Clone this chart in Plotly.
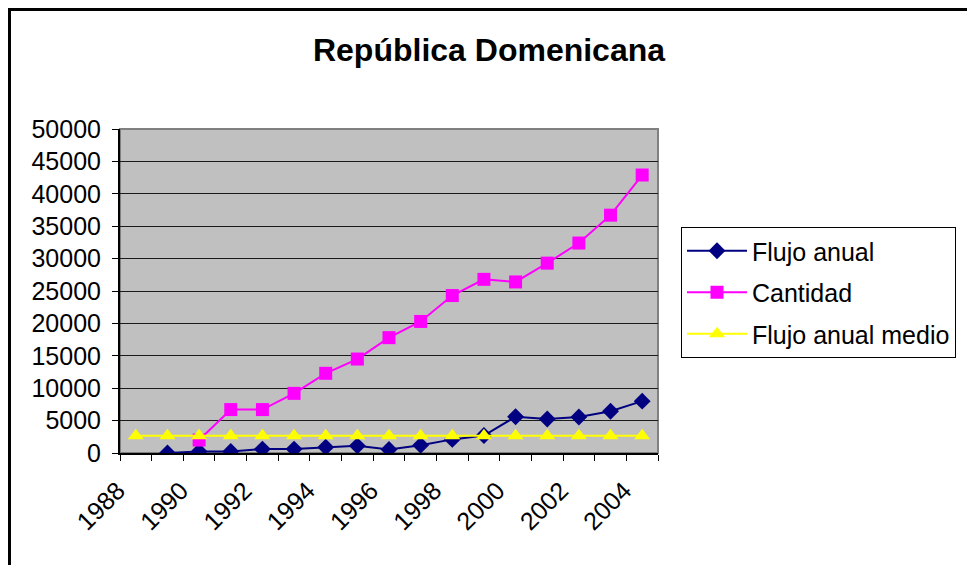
import plotly.graph_objects as go

# Datos
anios = list(range(1988, 2005))
flujo_anual = [None, 0, 250, 250, 600, 600, 900, 1100, 550, 1200, 2100, 2700,
               5600, 5250, 5550, 6450, 8000]
cantidad = [None, None, 2000, 6700, 6700, 9200, 12300, 14500, 17800, 20300,
            24300, 26800, 26400, 29300, 32400, 36700, 42900]
flujo_medio = [2650] * len(anios)
etiquetas_x = [str(a) for a in range(1988, 2005, 2)]

FUENTE = "Liberation Sans, Arial, sans-serif"

# La página deja 8 px de margen (body), así que todo va corrido 8 px
OFF = 8
W, H = 975 - OFF, 565 - OFF
# área de trazado en la página: x 120-658, y 129-453
L, T = 120 - OFF, 129 - OFF
R, B = W - (658 - OFF), H - (453 - OFF)
pw, ph = W - L - R, H - T - B


def px_x(x):
    return (x - OFF - L) / pw


def px_y(y):
    return (H - B - (y - OFF)) / ph


fig = go.Figure()
fig.add_trace(go.Scatter(
    x=anios, y=flujo_anual, name="Flujo anual", mode="lines+markers",
    line=dict(color="#000080", width=2),
    marker=dict(symbol="diamond", size=13, color="#000080"),
    legendgroup="a",
))
fig.add_trace(go.Scatter(
    x=anios, y=cantidad, name="Cantidad", mode="lines+markers",
    line=dict(color="#FF00FF", width=2),
    marker=dict(symbol="square", size=13, color="#FF00FF"),
    legendgroup="b",
))
fig.add_trace(go.Scatter(
    x=anios, y=flujo_medio, name="Flujo anual medio", mode="lines+markers",
    line=dict(color="#FFFF00", width=2),
    marker=dict(symbol="triangle-up", size=14, color="#FFFF00"),
    legendgroup="c",
))

fig.update_layout(
    width=W, height=H,
    margin=dict(l=L, r=R, t=T, b=B),
    paper_bgcolor="white",
    plot_bgcolor="#C0C0C0",
    font=dict(family=FUENTE, size=25, color="black"),
    title=dict(text="<b>República Domenicana</b>", x=(489 - OFF) / W,
               y=1 - (50 - OFF) / H, xanchor="center", yanchor="middle",
               font=dict(family=FUENTE, size=32, color="black")),
    showlegend=True,
    legend=dict(
        x=px_x(681), y=px_y(227), xanchor="left", yanchor="top",
        bgcolor="white", bordercolor="black", borderwidth=1,
        font=dict(family=FUENTE, size=25), tracegroupgap=6,
        traceorder="grouped", itemwidth=60,
    ),
    xaxis=dict(
        range=[1987.5, 2004.5],
        tickmode="array", tickvals=list(range(1988, 2005, 2)), ticktext=etiquetas_x,
        tickangle=-45, ticks="", showgrid=False, zeroline=False,
        showline=True, linecolor="black", linewidth=2,
        ticklabelshift=-18, ticklabelstandoff=11,
        minor=dict(tickmode="linear", tick0=1987.5, dtick=1, ticks="outside",
                   ticklen=6, tickcolor="black", showgrid=False),
        tickfont=dict(size=25),
    ),
    yaxis=dict(
        range=[0, 50000], dtick=5000, tickformat="d",
        ticks="outside", ticklen=6, tickcolor="black",
        ticklabelstandoff=6,
        showgrid=True, gridcolor="#1a1a1a", gridwidth=1, zeroline=False,
        showline=True, linecolor="black", linewidth=2,
        tickfont=dict(size=25),
    ),
    shapes=[
        # borde del área de trazado
        dict(type="rect", xref="paper", yref="paper", x0=0, x1=1, y0=0, y1=1,
             line=dict(color="#808080", width=2), layer="below"),
        # borde del gráfico
        dict(type="rect", xref="paper", yref="paper",
             x0=px_x(OFF + 1.5), x1=px_x(970),
             y0=px_y(590), y1=px_y(OFF + 1.5),
             line=dict(color="black", width=3)),
    ],
)

fig.write_html("out.html")
